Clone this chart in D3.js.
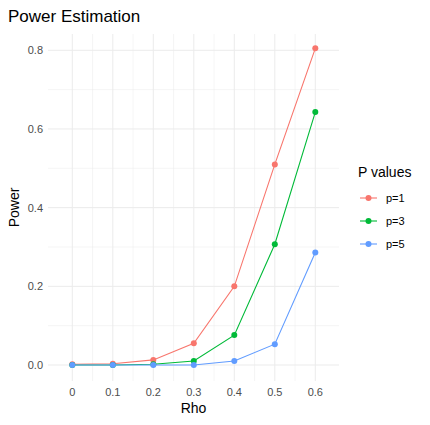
<!DOCTYPE html><html><head><script src="https://cdn.jsdelivr.net/npm/d3@7"></script>
<style>body{margin:0;background:#fff;font-family:"Liberation Sans",Arial,sans-serif}</style></head><body><svg width="430" height="425"></svg>
<script>
const rho=[0,0.1,0.2,0.3,0.4,0.5,0.6];
const p1=[0.002,0.003,0.013,0.055,0.200,0.510,0.805];
const p3=[0.000,0.000,0.002,0.010,0.076,0.307,0.643];
const p5=[0.000,0.000,0.000,0.000,0.010,0.053,0.286];
const seriesNames=["p=1","p=3","p=5"];
const colors=["#F8766D","#00BA38","#619CFF"];
const yTicks=[0,0.2,0.4,0.6,0.8];
const svg=d3.select("svg");
const x=d3.scaleLinear().domain([0,0.6]).range([72.3,315.3]);
const y=d3.scaleLinear().domain([0,0.8]).range([365,50.3]);
const x0=48,x1=339,y0=381,y1=34;
const g=svg.append("g");
[0.1,0.3,0.5,0.7].forEach(v=>g.append("line").attr("x1",x0).attr("x2",x1).attr("y1",y(v)).attr("y2",y(v)).attr("stroke","#ebebeb").attr("stroke-width",0.5));
[0.05,0.15,0.25,0.35,0.45,0.55].forEach(v=>g.append("line").attr("y1",y0).attr("y2",y1).attr("x1",x(v)).attr("x2",x(v)).attr("stroke","#ebebeb").attr("stroke-width",0.5));
yTicks.forEach(v=>g.append("line").attr("x1",x0).attr("x2",x1).attr("y1",y(v)).attr("y2",y(v)).attr("stroke","#ebebeb").attr("stroke-width",1));
rho.forEach(v=>g.append("line").attr("y1",y0).attr("y2",y1).attr("x1",x(v)).attr("x2",x(v)).attr("stroke","#ebebeb").attr("stroke-width",1));
yTicks.forEach(v=>svg.append("text").attr("x",43).attr("y",y(v)+4).attr("text-anchor","end").attr("font-size",11).attr("fill","#4d4d4d").text(v===0?"0.0":d3.format(".1f")(v)));
rho.forEach(v=>svg.append("text").attr("x",x(v)).attr("y",396).attr("text-anchor","middle").attr("font-size",11).attr("fill","#4d4d4d").text(String(v)));
svg.append("text").attr("x",(x0+x1)/2).attr("y",413).attr("text-anchor","middle").attr("font-size",14).text("Rho");
svg.append("text").attr("transform",`translate(19,${(y0+y1)/2}) rotate(-90)`).attr("text-anchor","middle").attr("font-size",14).text("Power");
svg.append("text").attr("x",8).attr("y",22).attr("font-size",17).text("Power Estimation");
const data=[p1,p3,p5];
const line=d3.line().x((d,i)=>x(rho[i])).y(d=>y(d));
data.forEach((s,k)=>{
 svg.append("path").attr("d",line(s)).attr("fill","none").attr("stroke",colors[k]).attr("stroke-width",1.1);
 s.forEach((d,i)=>svg.append("circle").attr("cx",x(rho[i])).attr("cy",y(d)).attr("r",3).attr("fill",colors[k]));
});
svg.append("text").attr("x",358).attr("y",177).attr("font-size",14).text("P values");
seriesNames.forEach((n,k)=>{
 const yy=198+k*23;
 svg.append("line").attr("x1",360).attr("x2",377).attr("y1",yy).attr("y2",yy).attr("stroke",colors[k]).attr("stroke-width",1.1);
 svg.append("circle").attr("cx",368.5).attr("cy",yy).attr("r",3).attr("fill",colors[k]);
 svg.append("text").attr("x",386).attr("y",yy+4).attr("font-size",11).text(n);
});
</script></body></html>
